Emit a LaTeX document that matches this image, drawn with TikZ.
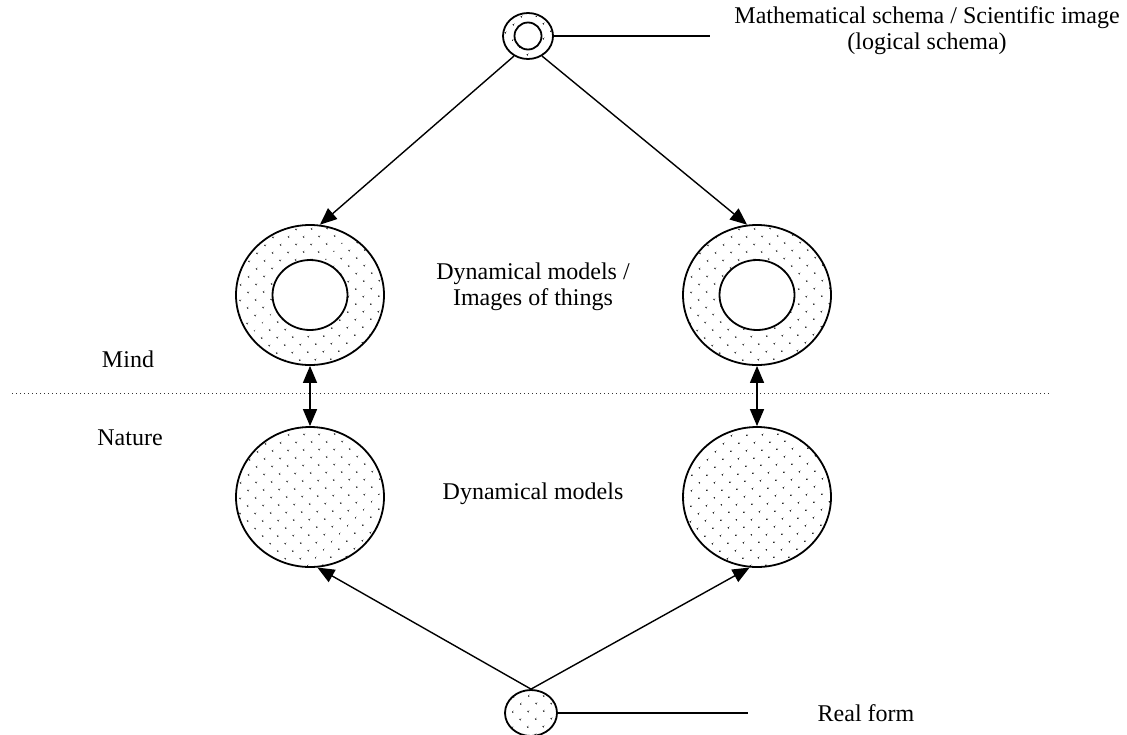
\documentclass[tikz,border=0pt]{standalone}
\usepackage{fontspec}
\setmainfont{Liberation Serif}
\usetikzlibrary{arrows.meta,shapes.geometric,patterns.meta}
\begin{document}
\begin{tikzpicture}[x=0.5pt,y=-0.5pt,>={Triangle[length=8.5pt,width=7pt]},line join=round,
	font=\fontsize{12}{13}\selectfont,
	ring/.style={ellipse,draw,line width=0.9pt,inner sep=0pt,
		pattern={Dots[distance=5.4pt,radius=0.5pt,angle=45]},pattern color=black!85},
	hole/.style={ellipse,draw,line width=0.9pt,fill=white,inner sep=0pt},
	link/.style={line width=0.7pt}]
	\useasboundingbox (0,0) rectangle (1127,734);
	% schema at the top, real form at the bottom
	\node[ring,minimum width=25pt,minimum height=23pt](top) at (528,36){};
	\node[hole,minimum width=13.5pt,minimum height=13.5pt](topin) at (528,36){};
	\node[ring,minimum width=26pt,minimum height=23pt](bot) at (531,713){};
	\coordinate (topend) at (710,36);
	\coordinate (botend) at (748,713);
	
	% mind
	\node[ring,minimum width=74pt,minimum height=70pt](ML) at (310,295){};
	\node[hole,minimum width=37.5pt,minimum height=35pt](MLin) at (310,295){};
	\node[ring,minimum width=74pt,minimum height=70pt](MR) at (757,295){};
	\node[hole,minimum width=37.5pt,minimum height=35pt](MRin) at (757,295){};
	
	% nature
	\node[ring,minimum width=74pt,minimum height=70pt](NL) at (310,497){};
	\node[ring,minimum width=74pt,minimum height=70pt](NR) at (757,497){};
	
	\coordinate (sepA) at (12,393);
	\coordinate (sepB) at (1052,393);
	\draw[line width=0.5pt,black!80,dash pattern=on 0.5pt off 1.5pt] (sepA)--(sepB);
	
	\node(toptext) at (927,31)[align=center]{Mathematical schema / Scientific image\\(logical schema)};
	\node(mtext) at (533,287)[align=center]{Dynamical models /\\Images of things};
	\node(ntext) at (533,494){Dynamical models};
	\node(rtext) at (866,713){Real form};
	\node(mind) at (128,359){Mind};
	\node(nature) at (130,438){Nature};
	
	\draw[link] (top.east)--(topend)  (bot.east)--(botend);
	\draw[link,->] (top.235)--(ML.82);
	\draw[link,->] (top.305)--(MR.98);
	\draw[link,<->] (ML.south)--(NL.north);
	\draw[link,<->] (MR.south)--(NR.north);
	\draw[link,->] (bot.north)--(NL.-84);
	\draw[link,->] (bot.north)--(NR.-96);
	
\end{tikzpicture}
\end{document}
